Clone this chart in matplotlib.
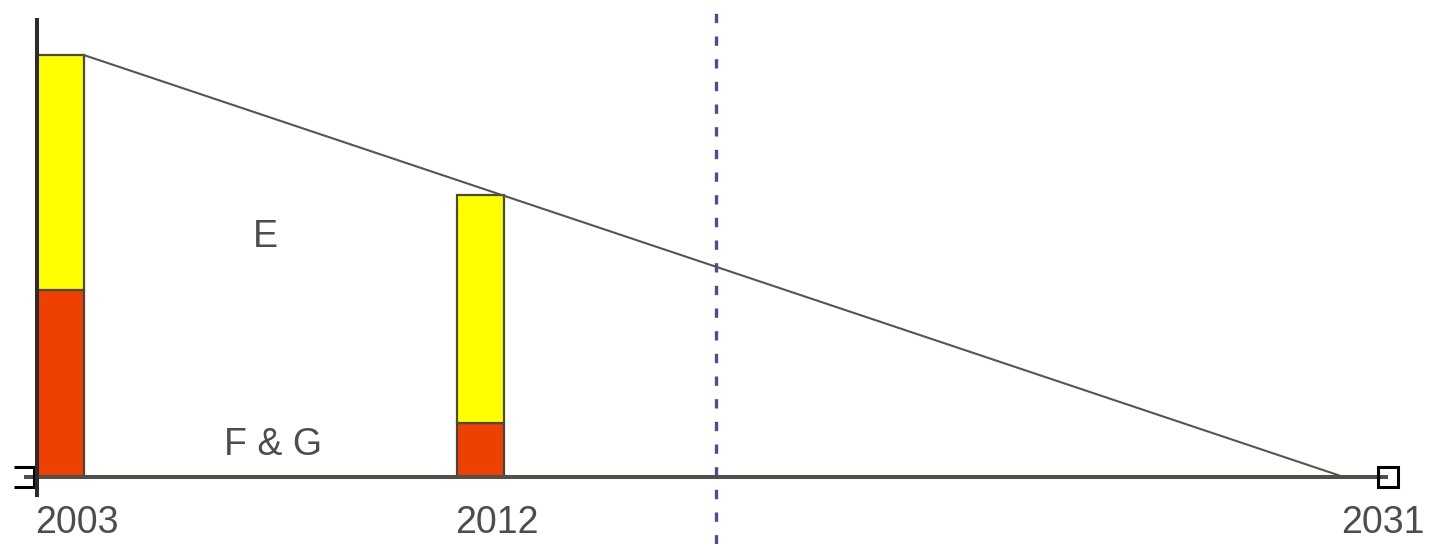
import matplotlib

matplotlib.use("Agg")
import matplotlib.pyplot as plt
from matplotlib.path import Path

# bar years and stacked values (arbitrary units, 2003 total = 100)
years = [2003, 2012]
red_part = [44.3, 12.8]
yellow_part = [55.7, 54.0]

# straight trend line down to zero
trend_x = [2004, 2031]
trend_y = [100.0, 0.0]

tick_years = [2003, 2012, 2031]
divider_year = 2017.55
axis_ends = [2002.72, 2031.95]

region_labels = [("E", 2007.9, 56.9), ("F & G", 2008.06, 7.6)]


def main() -> int:
    fig = plt.figure(figsize=(14.36, 5.44), dpi=100)
    ax = fig.add_axes([0, 0, 1, 1])
    ax.set_xlim(2002.207, 2032.976)
    ax.set_ylim(-15.88, 113.03)
    ax.axis("off")

    ax.bar(years, red_part, width=1.0, align="edge", color="#ee4000",
           edgecolor="#4a4538", linewidth=1.6, zorder=2)
    ax.bar(years, yellow_part, bottom=red_part, width=1.0, align="edge",
           color="#ffff00", edgecolor="#4a4a38", linewidth=1.6, zorder=2)

    ax.plot(trend_x, trend_y, color="#555555", linewidth=1.5, zorder=3)

    # horizontal axis with end markers
    ax.plot(axis_ends, [0, 0], color="#505048", linewidth=2.9, zorder=4,
            solid_capstyle="butt")
    open_square = Path([(-1, 1), (1, 1), (1, -1), (-1, -1)],
                       [Path.MOVETO, Path.LINETO, Path.LINETO, Path.LINETO])
    ax.plot(axis_ends[:1], [0], linestyle="none", marker=open_square,
            markersize=14, markerfacecolor="none", markeredgecolor="black",
            markeredgewidth=2.2, zorder=4)
    ax.plot(axis_ends[1:], [0], linestyle="none", marker="s", markersize=14,
            markerfacecolor="none", markeredgecolor="black",
            markeredgewidth=2.2, zorder=4)

    # vertical axis
    ax.plot([2003.0, 2003.0], [-4.7, 108.8], color="#2e2b26", linewidth=2.9,
            zorder=5, solid_capstyle="butt")

    ax.axvline(divider_year, color="#5e4590", linewidth=2.4,
               linestyle=(0, (2.8, 4.0)), zorder=1)

    for yr in tick_years:
        ax.text(yr - 0.05, -10.8, str(yr), ha="left", va="center",
                fontsize=27, color="#4d4d4d", family="Liberation Sans")

    for text, x, y in region_labels:
        ax.text(x, y, text, ha="center", va="center", fontsize=27,
                color="#4d4d4d", family="Liberation Sans")

    fig.savefig("out.png", dpi=100)
    plt.close(fig)
    return 0


if __name__ == "__main__":
    raise SystemExit(main())
